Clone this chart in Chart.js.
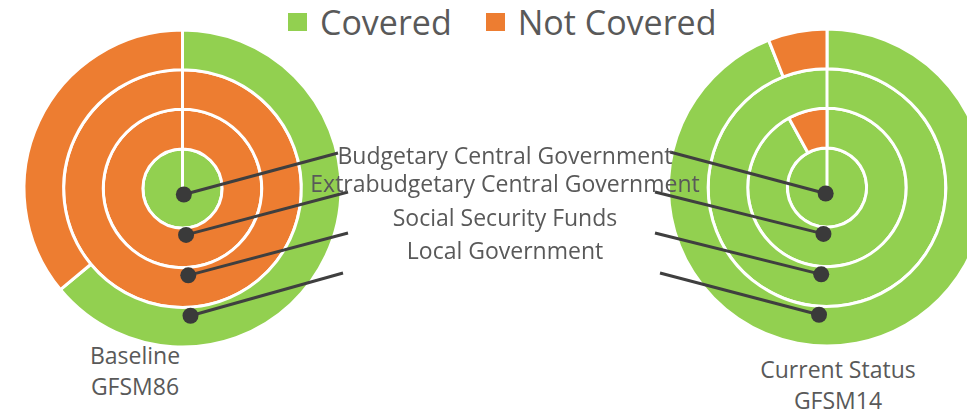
<!DOCTYPE html>
<html>
<head>
<meta charset="utf-8">
<script src="https://cdn.jsdelivr.net/npm/chart.js@4"></script>
<style>
  html, body { margin: 0; padding: 0; background: #fff; }
  #wrap { position: relative; width: 967px; height: 411px; overflow: hidden; font-family: 'Open Sans', sans-serif; color: #595959; }
  #wrap canvas { position: absolute; top: 0; }
  #legend { position: absolute; top: 0; left: 288px; height: 44px; display: flex; align-items: center; font-size: 34px; white-space: nowrap; }
  #legend .item { display: flex; align-items: center; margin-right: 34px; }
  #legend .box { width: 19px; height: 18px; margin-right: 13px; }
  #labels { position: absolute; left: 0; top: 0; z-index: 2; }
  .ring-label { position: absolute; left: 505px; transform: translate(-50%, -50%); font-size: 23px; white-space: nowrap; }
  .caption { position: absolute; transform: translateX(-50%); font-size: 23px; line-height: 31px; text-align: center; white-space: nowrap; }
</style>
</head>
<body>
<div id="wrap">
  <div id="legend"></div>
  <div class="caption" style="left:135px; top:340px;">Baseline<br>GFSM86</div>
  <div class="caption" style="left:838px; top:354px;">Current Status<br>GFSM14</div>
  <canvas id="baseline-chart" width="365" height="377" style="left:0px;"></canvas>
  <canvas id="current-chart" width="400" height="375" style="left:627px;"></canvas>
  <div id="labels"></div>
</div>
<script>
// rings listed from the centre outwards
const sectors = ['Budgetary Central Government', 'Extrabudgetary Central Government', 'Social Security Funds', 'Local Government'];
const statuses = ['Covered', 'Not Covered'];
const statusColors = ['#92D050', '#ED7D31'];

// share of each sector (%), GFSM86 baseline
const baselineCovered = [100, 0, 0, 64];
const baselineNotCovered = [0, 100, 100, 36];

// share of each sector (%), current GFSM14 status
const currentCovered = [100, 92, 100, 94];
const currentNotCovered = [0, 8, 0, 6];

// label text rows (centre y of each row)
const labelRows = [155, 183, 217, 250];

// legend
const legend = document.getElementById('legend');
statuses.forEach((s, i) => {
    const item = document.createElement('div');
    item.className = 'item';
    item.innerHTML = `<span class="box" style="background:${statusColors[i]}"></span>${s}`;
    legend.appendChild(item);
});

// sector names in the middle
const labels = document.getElementById('labels');
sectors.forEach((s, i) => {
    const el = document.createElement('div');
    el.className = 'ring-label';
    el.style.top = labelRows[i] + 'px';
    el.textContent = s;
    labels.appendChild(el);
});

// dots on each ring plus a leader line towards its label
const connectors = {
    id: 'connectors',
    afterDatasetsDraw(chart, args, opts) {
        const ctx = chart.ctx;
        const metas = chart.data.datasets.map((d, i) => chart.getDatasetMeta(i));
        ctx.save();
        ctx.strokeStyle = '#3f3f3f';
        ctx.fillStyle = '#3a3a3a';
        ctx.lineWidth = 3;
        const dots = metas.map((meta, i) => {
            const arc = meta.data.find(a => a.circumference > 0);
            const { x, y, innerRadius } = arc.getProps(['x', 'y', 'innerRadius'], true);
            const d = innerRadius * 1.02 + 6;
            return { x: x + opts.side * (1 + d * 0.055), y: y + d, end: opts.ends[meta.index] };
        });
        dots.forEach(p => {
            ctx.beginPath();
            ctx.moveTo(p.x, p.y);
            ctx.lineTo(p.end[0], p.end[1]);
            ctx.stroke();
        });
        dots.forEach(p => {
            ctx.beginPath();
            ctx.arc(p.x, p.y, 8, 0, Math.PI * 2);
            ctx.fill();
        });
        ctx.restore();
    }
};

function makeRings(covered, notCovered) {
    // Chart.js puts the first dataset on the outside
    return sectors.map((s, i) => ({
        label: s,
        data: [covered[i], notCovered[i]],
        backgroundColor: statusColors,
        borderColor: '#ffffff',
        borderWidth: 3
    })).reverse();
}

function makeChart(id, covered, notCovered, side, ends) {
    return new Chart(document.getElementById(id), {
        type: 'doughnut',
        data: { labels: statuses, datasets: makeRings(covered, notCovered) },
        options: {
            responsive: false,
            animation: false,
            events: [],
            cutout: 0,
            radius: 158.5,
            layout: { padding: 0 },
            plugins: {
                legend: { display: false },
                tooltip: { enabled: false },
                connectors: { side, ends }
            }
        },
        plugins: [connectors]
    });
}

// leader line ends, per dataset index (outer ring first), in canvas pixels
makeChart('baseline-chart', baselineCovered, baselineNotCovered, 1,
    [[343, 273], [348, 233], [348, 192], [338, 153]]);
makeChart('current-chart', currentCovered, currentNotCovered, -1,
    [[33, 273], [28, 233], [28, 192], [43, 152]]);
</script>
</body>
</html>
